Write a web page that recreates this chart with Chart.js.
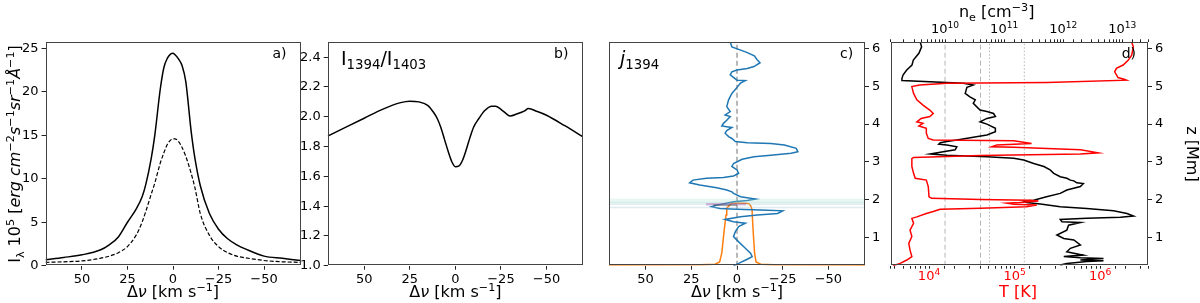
<!DOCTYPE html>
<html>
<head>
<meta charset="utf-8">
<script src="https://cdn.jsdelivr.net/npm/chart.js@4.4.1/dist/chart.umd.min.js"></script>
<style>
  body { margin: 0; background: #fff; }
  canvas { position: absolute; left: 0; top: 0; }
</style>
</head>
<body>
<canvas id="pa" width="1200" height="303"></canvas>
<canvas id="pb" width="1200" height="303"></canvas>
<canvas id="pc" width="1200" height="303"></canvas>
<canvas id="pd" width="1200" height="303"></canvas>
<script>
// ---- a) line profiles
const dvA = [70, 60, 50, 40, 35, 30, 25, 20, 17, 15, 12, 10, 7, 5, 3, 1, 0, -1, -3, -5, -7, -10, -12, -15, -20, -25, -30, -35, -40, -50, -60, -70];
const i1394 = [0.7, 0.95, 1.25, 1.8, 2.4, 3.3, 5.0, 6.6, 7.9, 9.3, 12.3, 15.0, 20.3, 22.8, 23.9, 24.4, 24.45, 24.3, 23.8, 23.0, 21.2, 15.4, 12.4, 9.2, 6.0, 4.2, 3.1, 2.4, 1.9, 1.1, 0.85, 0.6];
const i1403 = [0.38, 0.45, 0.55, 0.85, 1.1, 1.5, 2.2, 3.6, 5.0, 6.2, 8.2, 9.5, 11.8, 13.0, 14.0, 14.5, 14.6, 14.6, 14.3, 13.6, 12.6, 10.6, 9.0, 6.0, 3.5, 2.2, 1.5, 1.1, 0.9, 0.6, 0.45, 0.38];

// ---- b) ratio
const dvB = [70, 60, 50, 40, 30, 25, 20, 15, 12, 10, 8, 6, 4, 2, 0, -2, -4, -6, -8, -10, -13, -16, -20, -22, -25, -28, -30, -34, -38, -40, -45, -50, -60, -70];
const ratio = [1.87, 1.93, 1.99, 2.05, 2.095, 2.105, 2.10, 2.075, 2.03, 1.99, 1.93, 1.85, 1.77, 1.70, 1.665, 1.67, 1.71, 1.78, 1.86, 1.93, 1.99, 2.04, 2.07, 2.07, 2.05, 2.02, 2.005, 2.02, 2.04, 2.055, 2.035, 2.01, 1.94, 1.865];

// ---- c) emissivity: velocity (blue) and profile (orange) vs height
const zVel = [6.16, 6.04, 5.90, 5.80, 5.70, 5.62, 5.52, 5.47, 5.43, 5.38, 5.30, 5.16, 5.15, 5.08, 4.97, 4.81, 4.64, 4.46, 4.33, 4.24, 4.20, 4.10, 4.02, 3.95, 3.93, 3.91, 3.83, 3.76, 3.67, 3.62, 3.54, 3.51, 3.49, 3.45, 3.36, 3.27, 3.23, 3.18, 3.14, 3.07, 2.96, 2.88, 2.79, 2.70, 2.63, 2.59, 2.57, 2.52, 2.45, 2.39, 2.32, 2.26, 2.21, 2.17, 2.08, 2.02, 1.98, 1.95, 1.86, 1.82, 1.77, 1.75, 1.73, 1.71, 1.64, 1.60, 1.55, 1.48, 1.42, 1.38, 1.29, 1.16, 1.03, 0.89, 0.76, 0.59, 0.50, 0.43, 0.32, 0.26];
const dvVel = [3.7, 2.8, -5, -9.5, -11, -12.6, -9.3, -5.6, 0, 2.8, 3.7, 0, -4.6, -1.9, 0, 2.8, 4.6, 5.6, 3.7, 6.5, 3.7, 5.6, 7.4, 8.3, 5.6, 2.8, 5.6, 6.5, 4.6, 2.8, 0.9, -5.6, -18.5, -25.9, -32.4, -33.3, -29.6, -18.5, -9.3, -2.8, 1.9, 2.8, 0, -0.9, 1.9, 7.4, 16.7, 24.1, 25.9, 20.4, 11.1, 5.6, 2.8, 1.9, -1.9, -10.2, -5.6, 1.9, 11.1, 13.9, 9.3, 0, -13, -25, -22.2, -11.1, -1.9, 6.5, 1.9, -4.6, -0.9, 0.9, 1.9, -0.9, -3.7, -7.4, -8.3, -5.6, -0.9, 1.9];
const dvProf = [70, 20, 12, 9.5, 8.3, 7, 6, 5.6, 4, 2.8, 0, -4, -6.5, -7.5, -8.2, -8.8, -9.6, -10.4, -13, -20, -70];
const zProf = [0.28, 0.285, 0.30, 0.36, 0.6, 1.2, 1.6, 1.78, 1.86, 1.91, 1.91, 1.91, 1.9, 1.84, 1.75, 1.2, 0.6, 0.36, 0.30, 0.285, 0.28];
const bandZ = [2.01, 1.97, 1.93, 1.88, 1.80];

// ---- d) atmosphere: temperature (red) and electron density (black) vs height
const zT = [6.16, 6.04, 5.82, 5.69, 5.56, 5.47, 5.38, 5.23, 5.18, 5.16, 5.10, 5.08, 5.03, 4.99, 4.81, 4.64, 4.50, 4.37, 4.28, 4.20, 4.15, 4.06, 4.02, 3.95, 3.89, 3.76, 3.62, 3.58, 3.56, 3.49, 3.45, 3.40, 3.39, 3.32, 3.24, 3.21, 3.17, 3.12, 3.09, 2.88, 2.70, 2.57, 2.52, 2.35, 2.08, 2.04, 2.01, 1.99, 1.97, 1.93, 1.91, 1.88, 1.86, 1.82, 1.78, 1.75, 1.69, 1.64, 1.55, 1.51, 1.38, 1.20, 1.03, 0.85, 0.67, 0.50, 0.41, 0.32, 0.26];
const temp = [2.34e6, 2.45e6, 2.34e6, 2.14e6, 1.86e6, 1.55e6, 1.48e6, 1.62e6, 1.95e6, 2.04e6, 2.4e5, 1.62e4, 7.8e3, 6.3e3, 6.6e3, 7.2e3, 8.5e3, 1.02e4, 1.12e4, 1.02e4, 8.1e3, 7.2e3, 8.5e3, 7.6e3, 9.3e3, 9.3e3, 9.8e3, 1.12e4, 9.8e4, 1.58e5, 6.2e4, 5.4e4, 9.8e4, 5.9e5, 9.5e5, 5.9e5, 4.0e4, 6.6e3, 6.3e3, 6.3e3, 6.6e3, 6.9e3, 9.3e3, 9.8e3, 1.0e4, 1.07e4, 4.0e4, 1.51e5, 1.9e5, 1.15e5, 8.1e4, 9.8e4, 1.82e5, 1.38e5, 4.0e4, 1.35e4, 1.12e4, 9.3e3, 7.2e3, 6.3e3, 6.6e3, 6.0e3, 6.3e3, 5.8e3, 6.0e3, 6.3e3, 5.5e3, 4.6e3, 3.8e3];
const zNe = [6.16, 6.04, 5.87, 5.69, 5.56, 5.43, 5.30, 5.21, 5.15, 5.08, 5.03, 4.97, 4.81, 4.72, 4.64, 4.55, 4.37, 4.33, 4.28, 4.20, 4.15, 4.06, 4.00, 3.89, 3.80, 3.71, 3.65, 3.58, 3.54, 3.51, 3.47, 3.45, 3.40, 3.32, 3.27, 3.21, 3.18, 3.14, 3.10, 3.05, 2.96, 2.88, 2.79, 2.70, 2.61, 2.57, 2.52, 2.50, 2.45, 2.43, 2.35, 2.26, 2.17, 2.08, 1.99, 1.97, 1.93, 1.89, 1.82, 1.77, 1.71, 1.64, 1.57, 1.54, 1.51, 1.48, 1.42, 1.40, 1.33, 1.20, 1.07, 0.98, 0.94, 0.81, 0.72, 0.63, 0.59, 0.54, 0.50, 0.47, 0.45, 0.41, 0.39, 0.37, 0.32, 0.28];
const ne = [3.8e9, 4.0e9, 3.6e9, 2.9e9, 2.75e9, 2.24e9, 1.95e9, 1.86e9, 1.86e9, 2.04e10, 3.0e10, 2.34e10, 2.19e10, 2.63e10, 3.24e10, 3.0e10, 3.9e10, 5.1e10, 6.6e10, 7.1e10, 5.1e10, 3.9e10, 5.1e10, 7.1e10, 7.1e10, 5.1e10, 3.0e10, 1.58e10, 1.07e10, 8.3e9, 7.8e9, 1.07e10, 1.58e10, 1.48e10, 9.3e9, 5.6e9, 1.07e10, 5.1e10, 1.45e11, 2.14e11, 3.16e11, 4.7e11, 6.0e11, 6.9e11, 8.9e11, 1.15e12, 1.32e12, 1.51e12, 1.7e12, 2.19e12, 1.95e12, 1.15e12, 8.9e11, 5.2e11, 3.16e11, 2.14e11, 2.4e11, 4.1e11, 8.9e11, 2.5e12, 7.1e12, 1.2e13, 1.55e13, 9.3e12, 2.5e12, 8.9e11, 9.5e11, 1.95e12, 1.23e12, 1.15e12, 7.8e11, 1.02e12, 1.51e12, 1.95e12, 1.32e12, 1.15e12, 1.51e12, 2.19e12, 1.02e12, 1.95e12, 4.8e12, 1.95e12, 4.8e12, 2.5e12, 1.15e12, 8.9e11];
const dashedT = [1.54e4, 4.0e4];
const dottedT = [5.1e4, 1.3e5];
const tDecades = [4, 5, 6];
const neDecades = [10, 11, 12, 13];

const FONT = 'DejaVu Sans';
const TOP = 42.3, BOTTOM = 265.7, H = 303, W = 1200;

function pts(xs, ys) { return xs.map((x, i) => ({ x: x, y: ys[i] })); }
function minus(v) { return v < 0 ? '\u2212' + Math.abs(v) : String(v); }

// draws text with super/subscripts, segs = [[text, kind], ...]
function drawRich(ctx, segs, x, y, size, opt) {
    opt = opt || {};
    const parts = segs.map(([t, k]) => {
        const small = k.indexOf('sup') >= 0 || k.indexOf('sub') >= 0;
        const fs = small ? size * 0.7 : size;
        const font = (k.indexOf('i') === 0 ? 'italic ' : '') + fs + 'px "' + FONT + '"';
        ctx.font = font;
        const dy = k.indexOf('sup') >= 0 ? -size * 0.4 : k.indexOf('sub') >= 0 ? size * 0.22 : 0;
        return { t: t, font: font, w: ctx.measureText(t).width, dy: dy };
    });
    const total = parts.reduce((a, p) => a + p.w, 0);
    ctx.save();
    ctx.translate(x, y);
    if (opt.rot) ctx.rotate(opt.rot);
    ctx.textBaseline = 'alphabetic';
    ctx.textAlign = 'left';
    ctx.fillStyle = opt.color || '#000';
    let cx = opt.align === 'center' ? -total / 2 : 0;
    parts.forEach(p => { ctx.font = p.font; ctx.fillText(p.t, cx, p.dy); cx += p.w; });
    ctx.restore();
}

function decor(texts, extra) {
    return {
        id: 'decor',
        afterDatasetsDraw(chart) {
            const ctx = chart.ctx, a = chart.chartArea;
            ctx.save();
            ctx.strokeStyle = '#444';
            ctx.lineWidth = 1;
            ctx.strokeRect(Math.round(a.left) + 0.5, Math.round(a.top) + 0.5, Math.round(a.right - a.left) - 1, Math.round(a.bottom - a.top) - 1);
            ctx.restore();
            texts.forEach(t => drawRich(ctx, t.segs, t.x, t.y, t.size, t));
            if (extra) extra(chart);
        }
    };
}

function fixW(w) { return s => { s.width = w; s.paddingTop = 0; s.paddingBottom = 0; }; }
function fixH(h) { return s => { s.height = h; s.paddingLeft = 0; s.paddingRight = 0; }; }

const tickFont = { family: FONT, size: 13 };
const tickGrid = { display: true, drawOnChartArea: false, drawTicks: true, tickLength: 4, tickColor: '#222' };

function dvAxis() {
    return {
        type: 'linear', min: -70, max: 70, reverse: true,
        ticks: { stepSize: 25, includeBounds: false, font: tickFont, color: '#000', padding: 2, maxRotation: 0, callback: minus },
        grid: tickGrid, border: { display: false },
        afterFit: fixH(H - BOTTOM)
    };
}

function line(data, color, width, extra) {
    return Object.assign({ data: data, borderColor: color, backgroundColor: color, borderWidth: width, pointRadius: 0, showLine: true, fill: false }, extra || {});
}

const base = {
    responsive: false, animation: false, events: [],
    plugins: { legend: { display: false }, tooltip: { enabled: false } }
};

const dvTitle = [['\u0394', 'n'], ['\u03bd', 'i'], [' [km s', 'n'], ['\u22121', 'sup'], [']', 'n']];

// ---- panel a
new Chart(document.getElementById('pa'), {
    type: 'scatter',
    data: { datasets: [
        line(pts(dvA, i1394), '#000', 1.5, { cubicInterpolationMode: 'monotone' }),
        line(pts(dvA, i1403), '#000', 1.2, { cubicInterpolationMode: 'monotone', borderDash: [4, 2] })
    ] },
    options: Object.assign({}, base, {
        layout: { padding: { left: 0, right: W - 300.5, top: TOP, bottom: 0 } },
        scales: {
            x: dvAxis(),
            y: {
                type: 'linear', min: 0, max: 25.7,
                ticks: { stepSize: 5, includeBounds: false, font: tickFont, color: '#000', padding: 3 },
                grid: tickGrid, border: { display: false }, afterFit: fixW(45.5)
            }
        }
    }),
    plugins: [decor([
        { segs: [['I', 'n'], ['\u03bb', 'sub'], [' 10', 'n'], ['5', 'sup'], [' [', 'n'], ['erg cm', 'i'], ['\u22122', 'sup'], ['s', 'i'], ['\u22121', 'sup'], ['sr', 'i'], ['\u22121', 'sup'], ['\u00c5', 'i'], ['\u22121', 'sup'], [']', 'n']],
          x: 20, y: 154, size: 16, rot: -Math.PI / 2, align: 'center' },
        { segs: dvTitle, x: 173, y: 297, size: 16, align: 'center' },
        { segs: [['a)', 'n']], x: 272.5, y: 58, size: 14 }
    ])]
});

// ---- panel b
new Chart(document.getElementById('pb'), {
    type: 'scatter',
    data: { datasets: [ line(pts(dvB, ratio), '#000', 1.5, { cubicInterpolationMode: 'monotone' }) ] },
    options: Object.assign({}, base, {
        layout: { padding: { left: 327.7 - 30, right: W - 583, top: TOP, bottom: 0 } },
        scales: {
            x: dvAxis(),
            y: {
                type: 'linear', min: 1.0, max: 2.5,
                ticks: { stepSize: 0.2, includeBounds: false, font: tickFont, color: '#000', padding: 3, callback: v => v.toFixed(1) },
                grid: tickGrid, border: { display: false }, afterFit: fixW(30)
            }
        }
    }),
    plugins: [decor([
        { segs: [['I', 'n'], ['1394', 'sub'], ['/I', 'n'], ['1403', 'sub']], x: 341, y: 65, size: 19 },
        { segs: dvTitle, x: 455.4, y: 297, size: 16, align: 'center' },
        { segs: [['b)', 'n']], x: 554, y: 58, size: 14 }
    ])]
});

// ---- panel c
const bandColors = ['rgba(150,215,200,0.22)', 'rgba(170,225,210,0.3)', 'rgba(140,200,190,0.35)', 'rgba(160,210,215,0.35)', 'rgba(150,190,215,0.3)'];
const bandSets = bandZ.map((z, i) => line([{ x: 70, y: z }, { x: -70, y: z }], bandColors[i], 1.5));
new Chart(document.getElementById('pc'), {
    type: 'scatter',
    data: { datasets: [
        line([{ x: 17, y: 1.885 }, { x: -5, y: 1.885 }], 'rgba(150,70,170,0.35)', 2.5),
        line([{ x: 13, y: 1.86 }, { x: 0, y: 1.86 }], 'rgba(30,80,50,0.4)', 2),
        ...bandSets,
        line(pts(dvVel, zVel), '#1f77b4', 1.5),
        line(pts(dvProf, zProf), '#ff7f0e', 1.5),
        line([{ x: 0, y: 0.26 }, { x: 0, y: 6.16 }], '#a0a0a0', 1.5, { borderDash: [5, 3] })
    ] },
    options: Object.assign({}, base, {
        layout: { padding: { left: 609, right: W - 865 - 25, top: TOP, bottom: 0 } },
        scales: {
            x: dvAxis(),
            y: {
                type: 'linear', position: 'right', min: 0.26, max: 6.16,
                ticks: { stepSize: 1, includeBounds: false, font: tickFont, color: '#000', padding: 3 },
                grid: tickGrid, border: { display: false }, afterFit: fixW(25)
            }
        }
    }),
    plugins: [decor([
        { segs: [['j', 'i'], ['1394', 'sub']], x: 620, y: 65, size: 19 },
        { segs: dvTitle, x: 737, y: 297, size: 16, align: 'center' },
        { segs: [['c)', 'n']], x: 840, y: 58, size: 14 }
    ])]
});

// ---- panel d
const logTicks = { font: tickFont, padding: 1, autoSkip: false, maxRotation: 0, callback: () => '' };
const vlines = [];
dashedT.forEach(t => vlines.push(line([{ x: t, y: 0.26 }, { x: t, y: 6.16 }], '#b5b5b5', 1, { borderDash: [5, 3] })));
dottedT.forEach(t => vlines.push(line([{ x: t, y: 0.26 }, { x: t, y: 6.16 }], '#b5b5b5', 1, { borderDash: [1.5, 2] })));
// power-of-ten labels placed with the log scales
function decadeLabels(chart) {
    const ctx = chart.ctx;
    tDecades.forEach(p => drawRich(ctx, [['10', 'n'], [String(p), 'sup']], chart.scales.x.getPixelForValue(Math.pow(10, p)), 280, 13, { align: 'center', color: '#ff0000' }));
    neDecades.forEach(p => drawRich(ctx, [['10', 'n'], [String(p), 'sup']], chart.scales.x2.getPixelForValue(Math.pow(10, p)), 33, 13, { align: 'center' }));
}
new Chart(document.getElementById('pd'), {
    type: 'scatter',
    data: { datasets: [
        line(pts(temp, zT), '#ff0000', 1.5, { xAxisID: 'x' }),
        line(pts(ne, zNe), '#000', 1.5, { xAxisID: 'x2' }),
        ...vlines
    ] },
    options: Object.assign({}, base, {
        layout: { padding: { left: 890.7, right: 0, top: 0, bottom: 0 } },
        scales: {
            x: {
                type: 'logarithmic', position: 'bottom', min: 3565, max: 3.63e6,
                ticks: logTicks,
                grid: Object.assign({}, tickGrid, { tickLength: 3 }), border: { display: false },
                afterFit: fixH(H - BOTTOM)
            },
            x2: {
                type: 'logarithmic', position: 'top', min: 1.2e9, max: 2.72e13,
                ticks: logTicks,
                grid: Object.assign({}, tickGrid, { tickLength: 3 }), border: { display: false },
                afterFit: fixH(TOP)
            },
            y: {
                type: 'linear', position: 'right', min: 0.26, max: 6.16,
                ticks: { stepSize: 1, includeBounds: false, font: tickFont, color: '#000', padding: 3 },
                grid: tickGrid, border: { display: false }, afterFit: fixW(W - 1148)
            }
        }
    }),
    plugins: [decor([
        { segs: [['n', 'n'], ['e', 'sub'], [' [cm', 'n'], ['\u22123', 'sup'], [']', 'n']], x: 996.7, y: 17, size: 16, align: 'center' },
        { segs: [['T [K]', 'n']], x: 1018, y: 297, size: 16, align: 'center', color: '#ff0000' },
        { segs: [['z [Mm]', 'n']], x: 1187, y: 154, size: 16, align: 'center', rot: Math.PI / 2 },
        { segs: [['d)', 'n']], x: 1121.7, y: 58, size: 14 }
    ], decadeLabels)]
});
</script>
</body>
</html>
